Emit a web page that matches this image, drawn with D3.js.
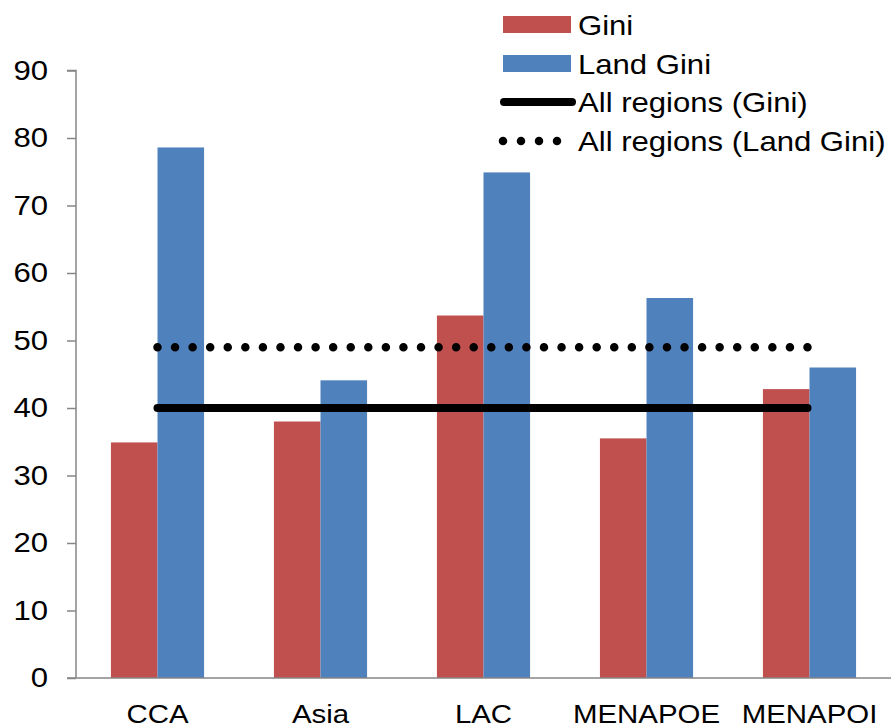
<!DOCTYPE html>
<html>
<head>
<meta charset="utf-8">
<script src="https://cdn.jsdelivr.net/npm/d3@7"></script>
<style>
html,body{margin:0;padding:0;background:#fff;}
svg{display:block;font-family:"Liberation Sans",Arial,sans-serif;}
</style>
</head>
<body>
<svg id="chart" width="896" height="725"></svg>
<script>
const categories = ["CCA", "Asia", "LAC", "MENAPOE", "MENAPOI"];
const giniValues = [34.9, 38.0, 53.7, 35.5, 42.8];
const landGiniValues = [78.6, 44.1, 74.9, 56.3, 46.0];
const allRegionsGini = 40.0;
const allRegionsLandGini = 49.0;
const yTicks = [0, 10, 20, 30, 40, 50, 60, 70, 80, 90];
const seriesNames = ["Gini", "Land Gini", "All regions (Gini)", "All regions (Land Gini)"];
const colors = {gini: "#C0504D", land: "#4F81BD"};

const svg = d3.select("#chart");
const plotLeft = 76, plotRight = 891, plotTop = 70.5, plotBottom = 678;
const FONT = 28, CAT_FONT = 26.5, STRETCH = 1.11;

const x = d3.scaleBand().domain(categories).range([plotLeft, plotRight]).paddingInner(0).paddingOuter(0);
const y = d3.scaleLinear().domain([0, 90]).range([plotBottom, plotTop]);
const step = x.bandwidth();
const bw = step / 3.5;

const xc = c => x(c) + step / 2;

// bars
const g = svg.append("g");
g.selectAll("rect.gini").data(categories).join("rect").attr("class", "gini")
  .attr("x", (c) => xc(c) - bw).attr("width", bw)
  .attr("y", (c, i) => y(giniValues[i])).attr("height", (c, i) => y(0) - y(giniValues[i]))
  .attr("fill", colors.gini);
g.selectAll("rect.land").data(categories).join("rect").attr("class", "land")
  .attr("x", (c) => xc(c)).attr("width", bw)
  .attr("y", (c, i) => y(landGiniValues[i])).attr("height", (c, i) => y(0) - y(landGiniValues[i]))
  .attr("fill", colors.land);

// y axis
const yAxis = d3.axisLeft(y).tickValues(yTicks).tickSize(9).tickPadding(19);
const ya = svg.append("g").attr("transform", `translate(${plotLeft},0)`).call(yAxis);
ya.select(".domain").attr("stroke", "#868686").attr("stroke-width", 1.5).attr("d", `M-9,${plotTop}H0V${plotBottom}`);
ya.selectAll(".tick line").attr("stroke", "#868686").attr("stroke-width", 1.5);
ya.selectAll(".tick text").attr("font-size", FONT).attr("fill", "#000").attr("font-family", "Liberation Sans, Arial, sans-serif");

// x axis
const xAxis = d3.axisBottom(x).tickSize(0).tickPadding(26);
const xa = svg.append("g").attr("transform", `translate(0,${plotBottom})`).call(xAxis);
xa.select(".domain").attr("stroke", "#868686").attr("stroke-width", 1.5).attr("d", `M${plotLeft - 9},0H${plotRight}`);
xa.selectAll(".tick text").attr("font-size", CAT_FONT).attr("fill", "#000").attr("font-family", "Liberation Sans, Arial, sans-serif");

// reference lines
const x0 = xc(categories[0]), x1 = xc(categories[categories.length - 1]);
svg.append("line").attr("x1", x0).attr("x2", x1 - 2).attr("y1", y(allRegionsGini)).attr("y2", y(allRegionsGini))
  .attr("stroke", "#000").attr("stroke-width", 8).attr("stroke-linecap", "round");
const dotGap = (x1 - 2 - x0) / 37;
svg.append("line").attr("x1", x0).attr("x2", x1).attr("y1", y(allRegionsLandGini)).attr("y2", y(allRegionsLandGini))
  .attr("stroke", "#000").attr("stroke-width", 8.5).attr("stroke-linecap", "round")
  .attr("stroke-dasharray", `0 ${dotGap}`);

// legend
const leg = svg.append("g").attr("font-size", FONT).attr("font-family", "Liberation Sans, Arial, sans-serif");
const rowY = [24.5, 63.5, 102, 141];
leg.append("rect").attr("x", 503).attr("y", rowY[0] - 8.5).attr("width", 68).attr("height", 17).attr("fill", colors.gini);
leg.append("rect").attr("x", 503).attr("y", rowY[1] - 8.5).attr("width", 68).attr("height", 17).attr("fill", colors.land);
leg.append("line").attr("x1", 504).attr("x2", 572).attr("y1", rowY[2]).attr("y2", rowY[2])
  .attr("stroke", "#000").attr("stroke-width", 8).attr("stroke-linecap", "round");
leg.append("line").attr("x1", 503).attr("x2", 559).attr("y1", rowY[3]).attr("y2", rowY[3])
  .attr("stroke", "#000").attr("stroke-width", 8.5).attr("stroke-linecap", "round").attr("stroke-dasharray", "0 18");
leg.selectAll("text").data(seriesNames).join("text")
  .attr("x", 578).attr("y", (d, i) => rowY[i]).attr("dy", "0.36em").attr("fill", "#000").text(d => d);

// horizontal stretch of text to match the reference's wide glyphs
svg.selectAll("text").each(function() {
  const w = this.getComputedTextLength();
  d3.select(this).attr("textLength", w * STRETCH).attr("lengthAdjust", "spacingAndGlyphs");
});
</script>
</body>
</html>
